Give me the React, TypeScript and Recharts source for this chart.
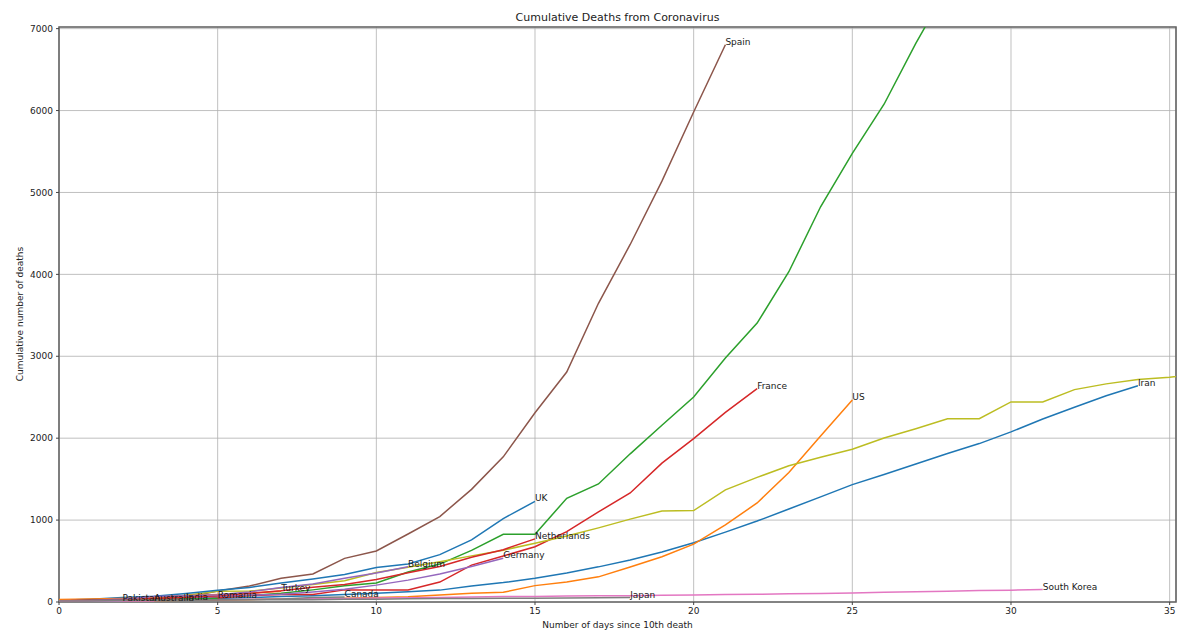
import React from "react";
import { LineChart, Line, XAxis, YAxis, CartesianGrid, ReferenceArea } from "recharts";

// cumulative deaths, one value per day since the 10th death (day 0 = first value)
const iran = [12, 16, 19, 26, 34, 43, 54, 66, 77, 92, 107, 124, 145, 194, 237, 291, 354, 429, 514, 611, 724, 853, 988, 1135, 1284, 1433, 1556, 1685, 1812, 1934, 2077, 2234, 2378, 2517, 2640];
const us = [11, 12, 14, 17, 21, 22, 28, 36, 40, 47, 54, 63, 85, 108, 118, 200, 244, 307, 427, 552, 706, 942, 1209, 1581, 2026, 2467];
const italy = [12, 17, 21, 29, 34, 52, 79, 107, 148, 197, 233, 366, 463, 631, 827, 827, 1266, 1441, 1809, 2158, 2503, 2978, 3405, 4032, 4825, 5476, 6077, 6820, 7503, 8215, 9134, 10023, 10779];
const france = [16, 19, 19, 33, 48, 48, 79, 91, 91, 148, 148, 148, 243, 450, 562, 674, 860, 1100, 1331, 1696, 1995, 2314, 2606];
const germany = [11, 17, 24, 28, 44, 67, 84, 94, 123, 157, 206, 267, 342, 433, 533];
const spain = [17, 28, 35, 54, 55, 133, 195, 289, 342, 533, 623, 830, 1043, 1375, 1772, 2311, 2808, 3647, 4365, 5138, 5982, 6803];
const southKorea = [13, 13, 16, 17, 28, 28, 35, 35, 42, 44, 50, 53, 54, 60, 66, 66, 72, 75, 75, 81, 84, 91, 94, 102, 104, 111, 120, 126, 131, 139, 144, 152];
const japan = [15, 16, 19, 22, 22, 27, 29, 29, 29, 33, 35, 41, 42, 43, 45, 47, 49, 52, 54];
const china = [18, 26, 42, 56, 82, 131, 133, 171, 213, 259, 361, 425, 491, 563, 633, 718, 805, 905, 1012, 1112, 1117, 1369, 1521, 1663, 1766, 1864, 2003, 2116, 2238, 2238, 2443, 2443, 2593, 2663, 2715, 2744, 2788];
const pakistan = [11, 12, 14];
const uk = [21, 35, 55, 71, 104, 144, 177, 233, 281, 335, 422, 465, 578, 759, 1019, 1228];
const turkey = [30, 37, 44, 59, 75, 92, 108, 131];
const romania = [11, 17, 23, 26, 37, 44];
const netherlands = [12, 20, 24, 43, 58, 76, 106, 136, 179, 213, 276, 356, 434, 546, 639, 771];
const belgium = [14, 21, 37, 67, 75, 88, 122, 178, 220, 289, 353, 431];
const india = [12, 20, 20, 24, 27];
const australia = [11, 13, 13, 14];
const canada = [12, 13, 19, 21, 25, 26, 30, 38, 54, 61];

const countries = [
  { name: "Iran", values: iran },
  { name: "US", values: us },
  { name: "Italy", values: italy },
  { name: "France", values: france },
  { name: "Germany", values: germany },
  { name: "Spain", values: spain },
  { name: "South Korea", values: southKorea },
  { name: "Japan", values: japan },
  { name: "China", values: china },
  { name: "Pakistan", values: pakistan },
  { name: "UK", values: uk },
  { name: "Turkey", values: turkey },
  { name: "Romania", values: romania },
  { name: "Netherlands", values: netherlands },
  { name: "Belgium", values: belgium },
  { name: "India", values: india },
  { name: "Australia", values: australia },
  { name: "Canada", values: canada },
];

const xTicks = [0, 5, 10, 15, 20, 25, 30, 35];
const yTicks = [0, 1000, 2000, 3000, 4000, 5000, 6000, 7000];

// matplotlib default cycle
const tab10 = ["#1f77b4", "#ff7f0e", "#2ca02c", "#d62728", "#9467bd", "#8c564b", "#e377c2", "#7f7f7f", "#bcbd22", "#17becf"];

const X_MAX = 35.2;
const Y_MAX = 7020;

const W = 1196;
const H = 637;

export default function App() {
  const tickStyle = { fontSize: 9, fill: "#222" };

  return (
    <div
      style={{
        position: "absolute",
        left: 0,
        top: 0,
        width: W,
        height: H,
        background: "#fff",
        fontFamily: "'DejaVu Sans', sans-serif",
        color: "#222",
      }}
    >
      <div style={{ position: "absolute", left: 59, width: 1117, top: 12, textAlign: "center", fontSize: 11, lineHeight: "12px" }}>
        Cumulative Deaths from Coronavirus
      </div>
      <div style={{ position: "absolute", left: 59, width: 1117, top: 620, textAlign: "center", fontSize: 9, lineHeight: "10px" }}>
        Number of days since 10th death
      </div>
      <div
        style={{
          position: "absolute",
          left: 20,
          top: 314,
          fontSize: 9,
          lineHeight: "10px",
          whiteSpace: "nowrap",
          transform: "translate(-50%, -50%) rotate(-90deg)",
        }}
      >
        Cumulative number of deaths
      </div>

      <LineChart width={W} height={H} margin={{ top: 27, right: 20, bottom: 0, left: 0 }}>
        <CartesianGrid stroke="#b0b0b0" strokeWidth={0.8} />
        <XAxis
          type="number"
          dataKey="d"
          domain={[0, X_MAX]}
          ticks={xTicks}
          allowDataOverflow
          height={35}
          tickSize={3}
          tickMargin={3}
          axisLine={false}
          tickLine={{ stroke: "#444" }}
          tick={tickStyle}
        />
        <YAxis
          type="number"
          domain={[0, Y_MAX]}
          ticks={yTicks}
          allowDataOverflow
          width={59}
          tickSize={3}
          tickMargin={3}
          axisLine={false}
          tickLine={{ stroke: "#444" }}
          tick={tickStyle}
        />
        {countries.map((c, i) => {
          const data = c.values.map((v, d) => ({ d, v }));
          const last = data.length - 1;
          // name goes at the end of the line, only when that end is inside the axes
          const showName = last <= X_MAX && data[last].v <= Y_MAX;
          return (
            <Line
              key={c.name}
              data={data}
              dataKey="v"
              type="linear"
              stroke={tab10[i % 10]}
              strokeWidth={1.5}
              isAnimationActive={false}
              dot={(p: any) =>
                showName && p.index === last ? (
                  <text key={`lbl-${c.name}`} x={p.cx} y={p.cy} fontSize={9} fill="#1a1a1a">
                    {c.name}
                  </text>
                ) : (
                  <g key={`dot-${c.name}-${p.index}`} />
                )
              }
            />
          );
        })}
        <ReferenceArea x1={0} x2={X_MAX} y1={0} y2={Y_MAX} fill="none" stroke="#666" strokeWidth={1.6} ifOverflow="visible" />
      </LineChart>
    </div>
  );
}
